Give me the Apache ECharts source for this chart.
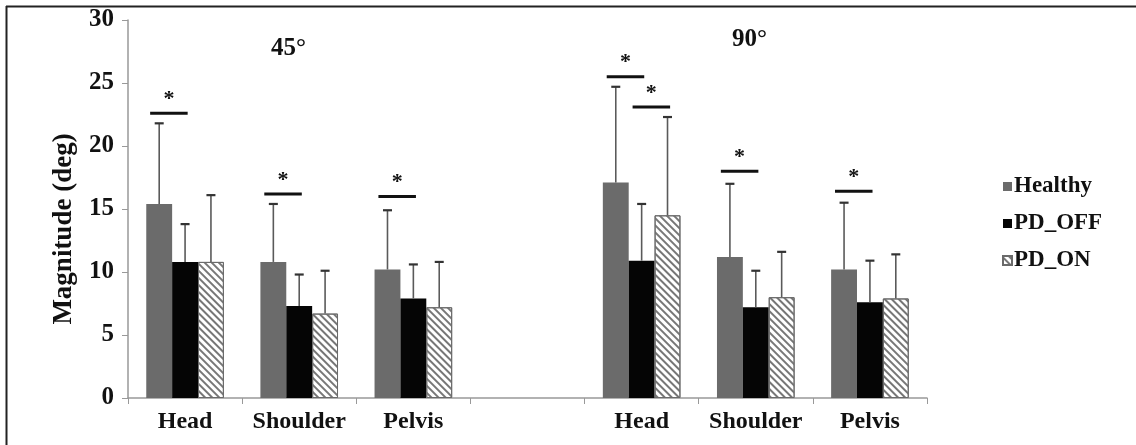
<!DOCTYPE html>
<html><head><meta charset="utf-8">
<script src="https://cdn.jsdelivr.net/npm/echarts@6/dist/echarts.min.js"></script>
<style>html,body{margin:0;padding:0;background:#fff}#c{width:1136px;height:445px}</style>
</head><body><div id="c"></div>
<script>
const categories = ['Head','Shoulder','Pelvis','','Head','Shoulder','Pelvis'];
const healthy    = [15.4, 10.8, 10.2, null, 17.1, 11.2, 10.2];
const healthySD  = [21.8, 15.4, 14.9, null, 24.7, 17.0, 15.5];
const pdOff      = [10.8, 7.3, 7.9, null, 10.9, 7.2, 7.6];
const pdOffSD    = [13.8, 9.8, 10.6, null, 15.4, 10.1, 10.9];
const pdOn       = [10.8, 6.7, 7.2, null, 14.5, 8.0, 7.9];
const pdOnSD     = [16.1, 10.1, 10.8, null, 22.3, 11.6, 11.4];
const yTicks     = [0, 5, 10, 15, 20, 25, 30];
// significance: [category index, series A, series B, y value]
const sigPairs   = [[0,0,1,22.6],[1,0,1,16.2],[2,0,1,16.0],[4,0,1,25.5],[4,1,2,23.1],[5,0,1,18.0],[6,0,1,16.4]];
const seriesNames = ['Healthy','PD_OFF','PD_ON'];
const groupTitles = ['45°','90°'];
const yAxisTitle = 'Magnitude (deg)';

const FONT = '"Liberation Serif", "DejaVu Serif", serif';
const GAP = 0.32; // barCategoryGap fraction

function barCenter(api, cat, s){
  const c = api.coord([cat, 0]);
  const band = api.size([1, 0])[0];
  const bw = band * (1 - GAP) / 3;
  return {x: c[0] + (s - 1) * bw, bw: bw};
}

function errSeries(idx, vals, sd){
  return {
    type: 'custom', name: seriesNames[idx] + ' SD', z: 5, silent: true,
    data: vals.map((v, i) => v == null ? null : [i, v, sd[i]]).filter(d => d),
    renderItem: function(params, api){
      const cat = api.value(0);
      const b = barCenter(api, cat, idx);
      const y0 = api.coord([cat, api.value(1)])[1];
      const y1 = api.coord([cat, api.value(2)])[1];
      return {type: 'group', children: [
        {type: 'line', shape: {x1: b.x, y1: y0, x2: b.x, y2: y1}, style: {stroke: '#5a5a5a', lineWidth: 1.6}},
        {type: 'line', shape: {x1: b.x - 4.5, y1: y1, x2: b.x + 4.5, y2: y1}, style: {stroke: '#333', lineWidth: 2.2}}
      ]};
    }
  };
}

const chart = echarts.init(document.getElementById('c'), null, {renderer: 'canvas'});
chart.setOption({
  animation: false,
  backgroundColor: '#fff',
  grid: {left: 128, right: 209, top: 20, bottom: 47},
  title: [
    {text: groupTitles[0], left: 266, top: 31, textStyle: {fontFamily: FONT, fontWeight: 'bold', fontSize: 25, color: '#111'}},
    {text: groupTitles[1], left: 727, top: 22, textStyle: {fontFamily: FONT, fontWeight: 'bold', fontSize: 25, color: '#111'}}
  ],
  legend: {
    orient: 'vertical', left: 997, top: 170, itemGap: 14, itemWidth: 9, itemHeight: 9,
    data: seriesNames.map(n => ({name: n, icon: 'rect'})),
    textStyle: {fontFamily: FONT, fontWeight: 'bold', fontSize: 23, color: '#111', padding: [0,0,0,-3]}
  },
  xAxis: {
    type: 'category', data: categories,
    axisLine: {lineStyle: {color: '#999', width: 1.5}},
    axisTick: {show: true, interval: 0, length: 6, lineStyle: {color: '#999'}},
    axisLabel: {interval: 0, margin: 12, fontFamily: FONT, fontWeight: 'bold', fontSize: 24, color: '#111'}
  },
  yAxis: {
    type: 'value', min: yTicks[0], max: yTicks[yTicks.length - 1], interval: 5,
    axisLine: {show: true, lineStyle: {color: '#999', width: 1.5}},
    axisTick: {show: true, length: 6, lineStyle: {color: '#999'}},
    axisLabel: {margin: 14, fontFamily: FONT, fontWeight: 'bold', fontSize: 25, color: '#111'},
    splitLine: {show: false}
  },
  series: [
    {type: 'bar', name: seriesNames[0], data: healthy, barGap: '0%', barCategoryGap: '32%',
      itemStyle: {color: '#6b6b6b'}},
    {type: 'bar', name: seriesNames[1], data: pdOff, barGap: '0%', barCategoryGap: '32%',
      itemStyle: {color: '#050505'}},
    {type: 'bar', name: seriesNames[2], data: pdOn, barGap: '0%', barCategoryGap: '32%',
      itemStyle: {color: '#ffffff', borderColor: '#6a6a6a', borderWidth: 1,
        decal: {symbol: 'rect', color: '#777', dashArrayX: [1, 0], dashArrayY: [1.6, 2.6], rotation: Math.PI / 4}}},
    errSeries(0, healthy, healthySD),
    errSeries(1, pdOff, pdOffSD),
    errSeries(2, pdOn, pdOnSD),
    {
      type: 'custom', name: 'sig', z: 6, silent: true,
      data: sigPairs,
      renderItem: function(params, api){
        const cat = api.value(0);
        const a = barCenter(api, cat, api.value(1));
        const b = barCenter(api, cat, api.value(2));
        const y = api.coord([cat, api.value(3)])[1];
        const x1 = a.x - 0.35 * a.bw, x2 = b.x + 0.1 * b.bw;
        return {type: 'group', children: [
          {type: 'line', shape: {x1: x1, y1: y, x2: x2, y2: y}, style: {stroke: '#111', lineWidth: 3}},
          {type: 'text', style: {text: '*', x: (x1 + x2) / 2, y: y - 3, align: 'center', verticalAlign: 'bottom',
            font: 'bold 22px ' + FONT, fill: '#111'}}
        ]};
      }
    }
  ],
  graphic: [
    {type: 'line', shape: {x1: 6, y1: 6.5, x2: 1136, y2: 6.5}, style: {stroke: '#222', lineWidth: 2}},
    {type: 'line', shape: {x1: 6.5, y1: 6, x2: 6.5, y2: 445}, style: {stroke: '#222', lineWidth: 2}},
    {type: 'text', x: 64, y: 229, rotation: Math.PI / 2,
      style: {text: yAxisTitle, align: 'center', verticalAlign: 'middle',
        font: 'bold 27px ' + FONT, fill: '#111'}}
  ]
});
</script></body></html>
